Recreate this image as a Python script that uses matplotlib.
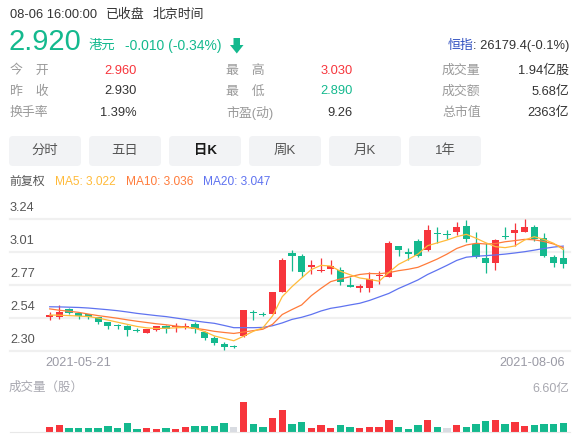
import matplotlib
matplotlib.use('Agg')
import matplotlib.pyplot as plt
from matplotlib.patches import FancyBboxPatch, Polygon
from matplotlib import transforms

plt.rcParams['font.family'] = ['Liberation Sans', 'Noto Sans CJK SC', 'DejaVu Sans']

W, H = 576, 436

# daily K data, 2021-05-21 .. 2021-08-06
opens = [2.545, 2.545, 2.600, 2.570, 2.560, 2.540, 2.505, 2.480, 2.480, 2.450,
         2.430, 2.450, 2.478, 2.468, 2.468, 2.495, 2.435, 2.395, 2.348, 2.330,
         2.405, 2.578, 2.566, 2.566, 2.722, 2.996, 2.977, 2.898, 2.868, 2.882,
         2.877, 2.770, 2.748, 2.751, 2.836, 2.829, 3.048, 3.000, 3.083, 3.019,
         3.142, 3.126, 3.150, 3.190, 3.065, 2.960, 2.928, 3.118, 3.142, 3.150,
         3.185, 3.107, 2.970, 2.960]
closes = [2.550, 2.580, 2.570, 2.550, 2.540, 2.505, 2.480, 2.475, 2.450, 2.445,
          2.455, 2.475, 2.455, 2.473, 2.475, 2.457, 2.395, 2.355, 2.332, 2.330,
          2.592, 2.568, 2.556, 2.718, 2.948, 2.975, 2.865, 2.912, 2.878, 2.907,
          2.794, 2.756, 2.764, 2.813, 2.842, 3.067, 3.016, 2.994, 2.979, 3.162,
          3.135, 3.126, 3.185, 3.095, 2.972, 2.925, 3.090, 3.112, 3.162, 3.185,
          3.097, 2.980, 2.930, 2.920]
highs = [2.580, 2.628, 2.608, 2.575, 2.565, 2.545, 2.510, 2.490, 2.485, 2.465,
         2.460, 2.480, 2.485, 2.497, 2.500, 2.510, 2.440, 2.410, 2.362, 2.340,
         2.595, 2.590, 2.575, 2.720, 2.964, 3.019, 2.990, 2.948, 2.964, 2.948,
         2.900, 2.830, 2.777, 2.865, 2.870, 3.083, 3.050, 3.036, 3.098, 3.197,
         3.185, 3.165, 3.216, 3.233, 3.150, 3.067, 3.098, 3.185, 3.210, 3.238,
         3.197, 3.140, 2.985, 3.030]
lows = [2.520, 2.528, 2.561, 2.530, 2.525, 2.490, 2.455, 2.460, 2.410, 2.435,
        2.425, 2.445, 2.430, 2.437, 2.460, 2.430, 2.378, 2.340, 2.305, 2.318,
        2.400, 2.523, 2.548, 2.562, 2.720, 2.872, 2.825, 2.850, 2.865, 2.848,
        2.770, 2.754, 2.722, 2.722, 2.775, 2.825, 2.977, 2.948, 2.972, 3.014,
        3.071, 3.100, 3.126, 3.078, 2.960, 2.853, 2.880, 3.095, 3.050, 3.147,
        3.080, 2.972, 2.895, 2.890]
# volume, 亿股
volumes = [1.09, 1.52, 0.87, 0.87, 0.87, 0.87, 1.31, 0.87, 2.03, 0.65,
           0.87, 0.65, 0.87, 0.65, 1.09, 1.37, 1.37, 1.37, 1.96, 1.15,
           6.60, 1.74, 1.15, 3.11, 4.86, 1.74, 2.18, 0.87, 1.52, 0.87,
           1.52, 1.09, 0.87, 1.09, 1.09, 2.61, 1.09, 0.65, 1.52, 2.61,
           1.09, 0.81, 1.52, 1.09, 1.74, 2.40, 2.61, 1.74, 2.18, 1.31,
           1.52, 1.74, 1.74, 1.94]
ma5 = [2.556, 2.555, 2.552, 2.549, 2.545, 2.535, 2.520, 2.505, 2.490, 2.475,
       2.465, 2.460, 2.462, 2.465, 2.468, 2.462, 2.438, 2.407, 2.390, 2.373,
       2.405, 2.440, 2.465, 2.550, 2.687, 2.758, 2.820, 2.880, 2.910, 2.905,
       2.868, 2.843, 2.820, 2.810, 2.797, 2.860, 2.917, 2.952, 2.990, 3.050,
       3.070, 3.090, 3.114, 3.131, 3.103, 3.071, 3.043, 3.036, 3.048, 3.090,
       3.114, 3.095, 3.067, 3.022]
ma10 = [2.600, 2.590, 2.583, 2.575, 2.563, 2.552, 2.543, 2.533, 2.522, 2.512,
        2.503, 2.494, 2.487, 2.478, 2.470, 2.462, 2.452, 2.440, 2.432, 2.425,
        2.435, 2.445, 2.455, 2.490, 2.560, 2.595, 2.628, 2.694, 2.746, 2.794,
        2.813, 2.829, 2.845, 2.852, 2.850, 2.858, 2.872, 2.882, 2.896, 2.925,
        2.955, 2.990, 3.030, 3.055, 3.067, 3.062, 3.065, 3.078, 3.086, 3.095,
        3.092, 3.080, 3.062, 3.036]
ma20 = [2.615, 2.614, 2.612, 2.610, 2.606, 2.600, 2.594, 2.587, 2.578, 2.568,
        2.560, 2.552, 2.545, 2.535, 2.525, 2.514, 2.505, 2.497, 2.482, 2.466,
        2.466, 2.466, 2.468, 2.480, 2.500, 2.525, 2.540, 2.560, 2.585, 2.604,
        2.615, 2.628, 2.640, 2.660, 2.685, 2.710, 2.745, 2.775, 2.806, 2.845,
        2.877, 2.910, 2.945, 2.968, 2.975, 2.979, 2.984, 2.990, 2.998, 3.007,
        3.018, 3.030, 3.040, 3.047]

price_ticks = [2.30, 2.535, 2.77, 3.005, 3.24]
price_tick_labels = ['2.30', '2.54', '2.77', '3.01', '3.24']
date_idx = [0, 53]
date_labels = ['2021-05-21', '2021-08-06']
tabs = ['分时', '五日', '日K', '周K', '月K', '1年']

RED = '#f7353c'
GREEN = '#14b98e'
GREY_BAR = '#d9dce2'
C5, C10, C20 = '#ffbb3a', '#ff7b3a', '#5f73f0'


def fx(x):
    return x / W


def fy(y):
    return 1 - y / H


fig = plt.figure(figsize=(W / 100, H / 100), dpi=100)
fig.patch.set_facecolor('white')


def put(x, y, s, **kw):
    kw.setdefault('va', 'center')
    fig.text(fx(x), fy(y), s, **kw)


# header
put(10, 15, '08-06 16:00:00', fontsize=9.3, color='#333333')
put(106, 15, '已收盘', fontsize=9.3, color='#333333')
put(153, 15, '北京时间', fontsize=9.3, color='#333333')
put(9, 42, '2.920', fontsize=21, color=GREEN)
put(89, 46, '港元', fontsize=9.6, color=GREEN)
put(125, 46, '-0.010 (-0.34%)', fontsize=10, color=GREEN)
arrow = [(233.5, 38), (240, 38), (240, 45), (243.5, 45), (236.8, 53.5),
         (230, 45), (233.5, 45)]
fig.add_artist(Polygon([(fx(a), fy(b)) for a, b in arrow], closed=True,
                       transform=fig.transFigure, color=GREEN, lw=0))
put(448, 46, '恒指', fontsize=9.3, color='#2f4fc0')
put(473, 46, ': 26179.4(-0.1%)', fontsize=9.3, color='#333333')

rows_y = [71, 91.5, 112.5]
col_labels = [['今\u3000开', '昨\u3000收', '换手率'],
              ['最\u3000高', '最\u3000低', '市盈(动)'],
              ['成交量', '成交额', '总市值']]
col_values = [['2.960', '2.930', '1.39%'],
              ['3.030', '2.890', '9.26'],
              ['1.94亿股', '5.68亿', '2363亿']]
col_colors = [[RED, '#333333', '#333333'],
              [RED, GREEN, '#333333'],
              ['#333333', '#333333', '#333333']]
label_x = [10, 226, 442]
value_x = [137, 353, 569]
for c in range(3):
    for r in range(3):
        put(label_x[c], rows_y[r], col_labels[c][r], fontsize=9.3, color='#9a9a9a')
        put(value_x[c], rows_y[r], col_values[c][r], fontsize=9.3,
            color=col_colors[c][r], ha='right')

# tabs
for k, name in enumerate(tabs):
    x0 = 9 + 80 * k
    box = FancyBboxPatch((x0 / 100, (H - 166) / 100), 0.72, 0.30,
                         boxstyle='round,pad=0,rounding_size=0.04',
                         transform=fig.dpi_scale_trans, facecolor='#f2f3f5',
                         edgecolor='none')
    fig.add_artist(box)
    bold = name == '日K'
    put(x0 + 36, 151, name, fontsize=9.6, ha='center',
        color='#1a1a1a' if bold else '#555555',
        fontweight='bold' if bold else 'normal')

put(9, 182, '前复权', fontsize=8.6, color='#555555')
put(55, 182, 'MA5: %.3f' % ma5[-1], fontsize=8.6, color=C5)
put(126, 182, 'MA10: %.3f' % ma10[-1], fontsize=8.6, color=C10)
put(203, 182, 'MA20: %.3f' % ma20[-1], fontsize=8.6, color=C20)

# price panel: gridlines at px 219..351, first candle centre at px 49.7, step 9.69 px
x0_px, step = 49.7, 9.69
xlim = ((10 - x0_px) / step, (570 - x0_px) / step)
ax = fig.add_axes([fx(10), fy(351), (570 - 10) / W, (351 - 219) / H])
ax.set_xlim(*xlim)
ax.set_ylim(price_ticks[0], price_ticks[-1])
ax.axis('off')
for v, lab in zip(price_ticks, price_tick_labels):
    ax.axhline(v, color='#f0f0f0', lw=1.6, zorder=0, clip_on=False)
    ax.annotate(lab, xy=(0, v), xycoords=('axes fraction', 'data'),
                xytext=(0, 8.2), textcoords='offset points', ha='left',
                va='center', fontsize=9.2, color='#555555')

n = len(opens)
idx = list(range(n))
cols = [RED if c > o else GREEN for o, c in zip(opens, closes)]
ax.vlines(idx, lows, highs, colors=cols, lw=0.9, zorder=2, clip_on=False)
bottoms = [min(o, c) for o, c in zip(opens, closes)]
heights = [max(abs(c - o), 0.008) for o, c in zip(opens, closes)]
ax.bar(idx, heights, bottom=bottoms, width=0.74, color=cols, zorder=3,
       clip_on=False)
ax.plot(idx, ma20, color=C20, lw=0.9, zorder=4, clip_on=False)
ax.plot(idx, ma10, color=C10, lw=0.9, zorder=4, clip_on=False)
ax.plot(idx, ma5, color=C5, lw=0.9, zorder=4, clip_on=False)

blend = transforms.blended_transform_factory(ax.transData, fig.transFigure)
ax.text(date_idx[0] - 0.4, fy(363), date_labels[0], transform=blend,
        ha='left', va='center', fontsize=9.2, color='#9a9aa5')
ax.text(date_idx[1] + 0.15, fy(363), date_labels[1], transform=blend,
        ha='right', va='center', fontsize=9.2, color='#9a9aa5')

# volume panel
put(9, 388, '成交量（股）', fontsize=9, color='#a8a8b0')
put(569, 389, '%.2f亿' % max(volumes), fontsize=9, color='#a8a8b0', ha='right')
ax2 = fig.add_axes([fx(10), fy(432), (570 - 10) / W, (432 - 401.7) / H])
ax2.set_xlim(*xlim)
ax2.set_ylim(0, max(volumes))
ax2.axis('off')
vcols = [RED if c > o else (GREEN if c < o else GREY_BAR)
         for o, c in zip(opens, closes)]
ax2.bar(idx, volumes, width=0.76, color=vcols, zorder=2, clip_on=False)
ax2.axhline(0, color='#e8e8e8', lw=0.8, zorder=3, clip_on=False)

fig.savefig('out.png', dpi=100, facecolor='white')
